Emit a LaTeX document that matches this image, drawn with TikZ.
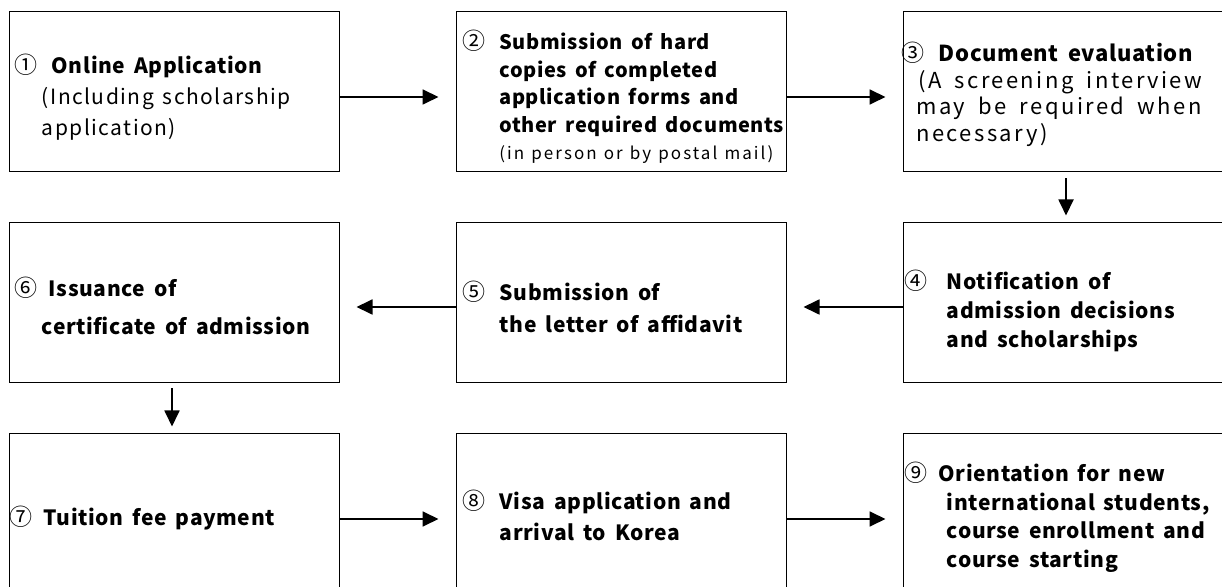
\documentclass[tikz,border=0pt]{standalone}
\usepackage{fontspec}
\setmainfont[LetterSpace=7,BoldFeatures={LetterSpace=3}]{Noto Sans CJK KR}
\usetikzlibrary{arrows.meta}
\usetikzlibrary{positioning}
\newlength{\numlead}
\newlength{\numgap}
\newcommand{\numfont}{\fontsize{23}{23}\selectfont}
\newcommand{\stepfont}[2]{\fontsize{#1}{#2}\selectfont\spaceskip=0.42em\relax}
\newcommand{\widefont}{\addfontfeatures{LetterSpace=11}\spaceskip=0.6em\relax}
% numeral, then the lines of one step, pushed down by #1
\newcommand{\stepitem}[3][12pt]{\raisebox{0pt}[\dimexpr\height+#1\relax][\depth]{%
    \begin{tabular}{@{\hspace{\numlead}}l@{\hspace{\numgap}}l@{}}{\numfont #2} & \begin{tabular}[t]{@{}l@{}}#3\end{tabular}\end{tabular}}}

\begin{document}
\begin{tikzpicture}[
    x=1pt, y=1pt,
    numlead/.code={\global\numlead=#1\relax},
    numgap/.code={\global\numgap=#1\relax},
    stepbox/.style={draw, line width=1pt, minimum width=330pt, minimum height=160pt,
        text width=330pt, inner xsep=0pt, align=left, numlead=-3pt, numgap=4pt},
    midbox/.style={stepbox, numlead=-2pt, numgap=14pt},
    rightbox/.style={stepbox, numlead=-7pt, numgap=19pt},
    flow/.style={-{Triangle[length=16pt,width=15pt]}, line width=1.8pt},
    every node/.style={color=black}
    ]
    \useasboundingbox (0,0) rectangle (1222,586);

    % first row
    \node[stepbox] (b1) at (174,494) {\stepfont{21}{31}
        \stepitem{①}{\hspace{10pt}\textbf{Online Application}\\(Including scholarship\\application)}};
    \node[midbox, right=116pt of b1] (b2) {\stepfont{20}{27.5}
        \stepitem[14pt]{②}{\textbf{Submission of hard}\\\textbf{copies of completed}\\\textbf{application forms and}\\\textbf{other required documents}\\{\stepfont{17}{20}\addfontfeatures{LetterSpace=12}(in person or by postal mail)}}};
    \node[stepbox, right=116pt of b2] (b3) {\stepfont{22}{26.5}
        \raisebox{0pt}[\dimexpr\height+8pt\relax][\depth]{\begin{tabular}{@{\hspace{-3pt}}l@{}}
        \hspace{-8pt}{\numfont ③}\hspace{13pt}\textbf{Document evaluation}\\
        \widefont\hspace{9pt}(A screening interview\\
        \widefont\hspace{7pt}may be required when\\
        \widefont\hspace{7pt}necessary)\end{tabular}}};
    % second row
    \node[rightbox, below=50pt of b3] (b4) {\stepfont{21}{29}
        \stepitem[20pt]{④}{\textbf{Notification of}\\\textbf{admission decisions}\\\textbf{and scholarships}}};
    \node[midbox, left=116pt of b4] (b5) {\stepfont{21}{32}
        \stepitem[14pt]{⑤}{\textbf{Submission of}\\\textbf{the letter of affidavit}}};
    \node[stepbox, left=116pt of b5] (b6) {\stepfont{21}{38}
        \stepitem[10pt]{⑥}{\hspace{7pt}\textbf{Issuance of}\\\textbf{certificate of admission}}};
    % third row
    \node[stepbox, minimum height=170pt, below=50pt of b6, numlead=-8pt, numgap=11pt] (b7) {\stepfont{21}{31}
        \stepitem[0pt]{⑦}{\textbf{Tuition fee payment}}};
    \node[midbox, minimum height=170pt, right=116pt of b7] (b8) {\stepfont{21}{31}
        \stepitem[0pt]{⑧}{\textbf{Visa application and}\\\textbf{arrival to Korea}}};
    \node[rightbox, minimum height=170pt, right=116pt of b8] (b9) {\stepfont{21}{28.5}
        \stepitem[0pt]{⑨}{\hspace{-8pt}\textbf{Orientation for new}\\\textbf{international students,}\\\textbf{course enrollment and}\\\textbf{course starting}}};

    % arrows
    \draw[flow, shorten >=17pt] ([yshift=-5pt]b1.east) -- ([yshift=-5pt]b2.west);
    \draw[flow, shorten >=17pt] ([yshift=-5pt]b2.east) -- ([yshift=-5pt]b3.west);
    \draw[flow, shorten <=6pt, shorten >=7pt] ([xshift=-2pt]b3.south) -- ([xshift=-2pt]b4.north);
    \draw[flow, shorten >=17pt] ([yshift=-4pt]b4.west) -- ([yshift=-4pt]b5.east);
    \draw[flow, shorten >=17pt] ([yshift=-4pt]b5.west) -- ([yshift=-4pt]b6.east);
    \draw[flow, shorten <=5pt, shorten >=7pt] ([xshift=-2pt]b6.south) -- ([xshift=-2pt]b7.north);
    \draw[flow, shorten >=17pt] (b7.east) -- (b8.west);
    \draw[flow, shorten >=17pt] (b8.east) -- (b9.west);
\end{tikzpicture}
\end{document}
